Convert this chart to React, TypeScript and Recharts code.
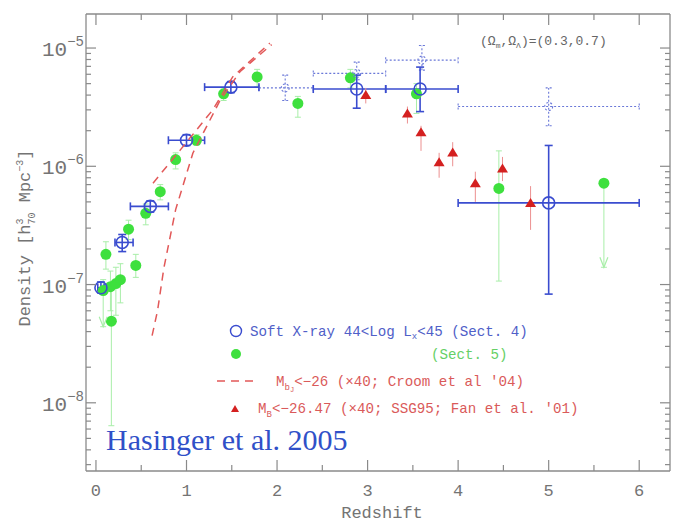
import React from "react";
import { ScatterChart, Scatter, XAxis, YAxis, ErrorBar } from "recharts";

const W = 680;
const H = 522;
const MARGIN = { top: 14, right: 10, bottom: 51, left: 86 };

const Z_MIN = -0.11;
const Z_MAX = 6.34;
const D_MIN = 2.65e-9;
const D_MAX = 1.94e-5;

// axis ticks
const xTicks = [0, 0.5, 1, 1.5, 2, 2.5, 3, 3.5, 4, 4.5, 5, 5.5, 6];
const yTicks = [
  3e-9, 4e-9, 5e-9, 6e-9, 7e-9, 8e-9, 9e-9, 1e-8,
  2e-8, 3e-8, 4e-8, 5e-8, 6e-8, 7e-8, 8e-8, 9e-8, 1e-7,
  2e-7, 3e-7, 4e-7, 5e-7, 6e-7, 7e-7, 8e-7, 9e-7, 1e-6,
  2e-6, 3e-6, 4e-6, 5e-6, 6e-6, 7e-6, 8e-6, 9e-6, 1e-5,
];

// soft X-ray, 44 < log Lx < 45
const xrayZ = [0.055, 0.29, 0.6, 1.0, 1.49, 2.88, 3.58, 5.0];
const xrayDensity = [9.4e-8, 2.27e-7, 4.58e-7, 1.66e-6, 4.67e-6, 4.5e-6, 4.5e-6, 4.9e-7];
const xrayZLow = [0.02, 0.21, 0.38, 0.8, 1.2, 2.4, 3.2, 4.0];
const xrayZHigh = [0.09, 0.41, 0.8, 1.2, 1.8, 3.2, 4.0, 6.0];
const xrayDLow = [8.5e-8, 1.9e-7, 4.1e-7, 1.5e-6, 4.2e-6, 3.1e-6, 2.9e-6, 8.3e-8];
const xrayDHigh = [1.05e-7, 2.65e-7, 5.1e-7, 1.85e-6, 5.2e-6, 5.9e-6, 6.9e-6, 1.5e-6];

// soft X-ray, dotted (incompleteness-corrected) points
const limZ = [2.09, 2.88, 3.6, 5.0];
const limDensity = [4.6e-6, 6.1e-6, 7.9e-6, 3.2e-6];
const limZLow = [1.8, 2.4, 3.2, 4.0];
const limZHigh = [2.4, 3.2, 4.0, 6.0];
const limDLow = [3.6e-6, 5.4e-6, 6.5e-6, 2.2e-6];
const limDHigh = [5.9e-6, 7.6e-6, 1.05e-5, 4.6e-6];

// Sect. 5 densities
const optZ = [0.08, 0.11, 0.16, 0.17, 0.22, 0.27, 0.36, 0.44, 0.55, 0.71, 0.88, 1.11, 1.41, 1.78, 2.23, 2.81, 3.54, 4.45, 5.61];
const optDensity = [8.9e-8, 1.8e-7, 9.6e-8, 4.9e-8, 1.02e-7, 1.1e-7, 2.94e-7, 1.45e-7, 4.0e-7, 6.1e-7, 1.14e-6, 1.66e-6, 4.1e-6, 5.7e-6, 3.4e-6, 5.6e-6, 4.1e-6, 6.5e-7, 7.2e-7];
const optLow = [4.4e-8, 1.35e-7, 6.0e-8, 6.4e-9, 5.5e-8, 7.0e-8, 2.4e-7, 1.15e-7, 3.2e-7, 5.2e-7, 9.5e-7, 1.5e-6, 3.6e-6, 4.7e-6, 2.6e-6, 4.6e-6, 2.8e-6, 1.07e-7, 1.4e-7];
const optHigh = [1.1e-7, 2.3e-7, 1.3e-7, 1.0e-7, 1.4e-7, 1.5e-7, 3.5e-7, 1.8e-7, 4.8e-7, 7.0e-7, 1.3e-6, 1.85e-6, 4.6e-6, 6.6e-6, 3.9e-6, 6.6e-6, 5.0e-6, 1.35e-6, 7.2e-7];
const optLimitZ = [0.08, 5.61];
const optLimitTip = [4.4e-8, 1.4e-7];

// Fan et al. '01, M_B < -26.47
const qsoZ = [2.98, 3.44, 3.59, 3.79, 3.94, 4.19, 4.49, 4.8];
const qsoDensity = [4.0e-6, 2.8e-6, 1.94e-6, 1.08e-6, 1.31e-6, 7.2e-7, 9.6e-7, 4.9e-7];
const qsoLow = [3.4e-6, 2.3e-6, 1.35e-6, 8.0e-7, 1.0e-6, 5.0e-7, 7.5e-7, 2.9e-7];
const qsoHigh = [4.6e-6, 3.2e-6, 2.2e-6, 1.3e-6, 1.6e-6, 9.0e-7, 1.2e-6, 6.8e-7];

// Croom et al '04 model curves
const croomAZ = [0.63, 0.93, 1.29, 1.51, 1.92];
const croomA = [7.2e-7, 1.37e-6, 3.0e-6, 5.7e-6, 1.1e-5];
const croomBZ = [0.62, 0.68, 0.75, 0.88, 1.07, 1.37, 1.59, 1.94];
const croomB = [3.7e-8, 6.0e-8, 1.38e-7, 4.3e-7, 1.29e-6, 3.6e-6, 6.3e-6, 1.07e-5];

const FRAME = "#8a8a8a";
const LABEL = "#747474";
const BLUE = "#3a4ccf";
const BLUE_DOT = "#6a78d8";
const GREEN = "#3ee03e";
const GREEN_BAR = "#a8eea8";
const RED = "#d42020";
const RED_BAR = "#ec9090";
const RED_DASH = "#e25858";
const MONO = "'Liberation Mono', monospace";

const withBars = (z: number[], d: number[], dLo: number[], dHi: number[], zLo?: number[], zHi?: number[]) =>
  z.map((v, i) => ({
    z: v,
    d: d[i],
    ey: [d[i] - dLo[i], dHi[i] - d[i]],
    ez: zLo && zHi ? [v - zLo[i], zHi[i] - v] : [0, 0],
  }));

const xrayData = withBars(xrayZ, xrayDensity, xrayDLow, xrayDHigh, xrayZLow, xrayZHigh);
const limData = withBars(limZ, limDensity, limDLow, limDHigh, limZLow, limZHigh);
const optData = withBars(optZ, optDensity, optLow, optHigh);
const qsoData = withBars(qsoZ, qsoDensity, qsoLow, qsoHigh);
const optLimitData = optLimitZ.map((z, i) => ({ z, d: optLimitTip[i] }));
const croomAData = croomAZ.map((z, i) => ({ z, d: croomA[i] }));
const croomBData = croomBZ.map((z, i) => ({ z, d: croomB[i] }));

const isInt = (v: number) => Math.abs(v - Math.round(v)) < 1e-9;
const isDecade = (v: number) => isInt(Math.log10(v));

function BottomTick({ x, y, payload }: any) {
  const major = isInt(payload.value);
  return (
    <g>
      <line x1={x} x2={x} y1={y} y2={y - (major ? 11 : 6)} stroke={FRAME} strokeWidth={1.2} />
      {major && (
        <text x={x} y={y + 25} textAnchor="middle" fontFamily={MONO} fontSize={17} fill={LABEL}>
          {payload.value}
        </text>
      )}
    </g>
  );
}

function TopTick({ x, y, payload }: any) {
  const major = isInt(payload.value);
  return <line x1={x} x2={x} y1={y} y2={y + (major ? 11 : 6)} stroke={FRAME} strokeWidth={1.2} />;
}

function LeftTick({ x, y, payload }: any) {
  const major = isDecade(payload.value);
  const exp = Math.round(Math.log10(payload.value));
  return (
    <g>
      <line x1={x} x2={x + (major ? 10 : 5)} y1={y} y2={y} stroke={FRAME} strokeWidth={1.2} />
      {major && (
        <text x={x - 2} y={y + 8} textAnchor="end" fontFamily={MONO} fontSize={21} fill={LABEL}>
          10
          <tspan dy={-10} fontSize={14}>{`\u2212${Math.abs(exp)}`}</tspan>
        </text>
      )}
    </g>
  );
}

function RightTick({ x, y, payload }: any) {
  const major = isDecade(payload.value);
  return <line x1={x} x2={x - (major ? 10 : 5)} y1={y} y2={y} stroke={FRAME} strokeWidth={1.2} />;
}

const OpenCircle = ({ cx, cy }: any) => (
  <circle cx={cx} cy={cy} r={6} fill="none" stroke={BLUE} strokeWidth={1.6} />
);
const DottedCircle = ({ cx, cy }: any) => (
  <circle cx={cx} cy={cy} r={4} fill="none" stroke={BLUE_DOT} strokeWidth={1.1} strokeDasharray="2 2" />
);
const Dot = ({ cx, cy }: any) => <circle cx={cx} cy={cy} r={5.5} fill={GREEN} />;
const Triangle = ({ cx, cy }: any) => (
  <polygon points={`${cx - 5.5},${cy + 4} ${cx + 5.5},${cy + 4} ${cx},${cy - 5}`} fill={RED} />
);
const ArrowHead = ({ cx, cy }: any) => (
  <polyline points={`${cx - 4},${cy - 10} ${cx},${cy} ${cx + 4},${cy - 10}`} fill="none" stroke={GREEN_BAR} strokeWidth={1.2} />
);
const NoSymbol = () => <g />;

function Annotations() {
  return (
    <svg width={W} height={H} style={{ position: "absolute", left: 0, top: 0, pointerEvents: "none" }}>
      <text x={480} y={45} fontFamily={MONO} fontSize={13} fill="#666">
        ({"\u03a9"}
        <tspan dy={3} fontSize={8}>m</tspan>
        <tspan dy={-3}>,{"\u03a9"}</tspan>
        <tspan dy={3} fontSize={8}>{"\u039b"}</tspan>
        <tspan dy={-3}>)=(0.3,0.7)</tspan>
      </text>

      <text transform="translate(30,238) rotate(-90)" textAnchor="middle" fontFamily={MONO} fontSize={17} fill={LABEL}>
        Density [h
        <tspan dy={-7} fontSize={10}>3</tspan>
        <tspan dx={-6} dy={12} fontSize={10}>70</tspan>
        <tspan dy={-5}> Mpc</tspan>
        <tspan dy={-7} fontSize={10}>{"\u22123"}</tspan>
        <tspan dy={7}>]</tspan>
      </text>

      <text x={382} y={518} textAnchor="middle" fontFamily={MONO} fontSize={17} fill={LABEL}>
        Redshift
      </text>

      <circle cx={236} cy={331} r={5.5} fill="none" stroke={BLUE} strokeWidth={1.4} />
      <text x={250} y={336} fontFamily={MONO} fontSize={14.2} fill="#5060c8">
        Soft X-ray 44&lt;Log L
        <tspan dy={3} fontSize={9}>x</tspan>
        <tspan dy={-3}>&lt;45 (Sect. 4)</tspan>
      </text>

      <circle cx={236} cy={354} r={5} fill={GREEN} />
      <text x={431} y={359} fontFamily={MONO} fontSize={14.2} fill="#66d066">
        (Sect. 5)
      </text>

      <line x1={217} x2={258} y1={381} y2={381} stroke={RED_DASH} strokeWidth={1.4} strokeDasharray="8 6" />
      <text x={276} y={386} fontFamily={MONO} fontSize={14.2} fill="#da5a5a">
        M
        <tspan dy={4} fontSize={9}>b</tspan>
        <tspan dy={2} fontSize={7}>J</tspan>
        <tspan dy={-6}>&lt;{"\u2212"}26 ({"\u00d7"}40; Croom et al '04)</tspan>
      </text>

      <polygon points="231,412 239,412 235,405" fill={RED} />
      <text x={258} y={413} fontFamily={MONO} fontSize={14.2} fill="#da5a5a">
        M
        <tspan dy={4} fontSize={9}>B</tspan>
        <tspan dy={-4}>&lt;{"\u2212"}26.47 ({"\u00d7"}40; SSG95; Fan et al. '01)</tspan>
      </text>

      <text x={106} y={450} fontFamily="'Liberation Serif', serif" fontSize={30} fill="#3050c8">
        Hasinger et al. 2005
      </text>
    </svg>
  );
}

export default function App() {
  return (
    <div style={{ position: "absolute", left: 0, top: 0, width: W, height: H, background: "#fff" }}>
      <ScatterChart width={W} height={H} margin={MARGIN}>
        <XAxis
          xAxisId="x"
          type="number"
          dataKey="z"
          domain={[Z_MIN, Z_MAX]}
          allowDataOverflow
          ticks={xTicks}
          interval={0}
          orientation="bottom"
          mirror
          tickLine={false}
          tickSize={0}
          tickMargin={0}
          axisLine={{ stroke: FRAME, strokeWidth: 1.3 }}
          tick={<BottomTick />}
        />
        <XAxis
          xAxisId="xt"
          type="number"
          dataKey="z"
          domain={[Z_MIN, Z_MAX]}
          allowDataOverflow
          ticks={xTicks}
          interval={0}
          orientation="top"
          mirror
          tickLine={false}
          tickSize={0}
          tickMargin={0}
          axisLine={{ stroke: FRAME, strokeWidth: 1.3 }}
          tick={<TopTick />}
        />
        <YAxis
          yAxisId="y"
          type="number"
          dataKey="d"
          scale="log"
          domain={[D_MIN, D_MAX]}
          allowDataOverflow
          ticks={yTicks}
          interval={0}
          orientation="left"
          mirror
          tickLine={false}
          tickSize={0}
          tickMargin={0}
          axisLine={{ stroke: FRAME, strokeWidth: 1.3 }}
          tick={<LeftTick />}
        />
        <YAxis
          yAxisId="yr"
          type="number"
          dataKey="d"
          scale="log"
          domain={[D_MIN, D_MAX]}
          allowDataOverflow
          ticks={yTicks}
          interval={0}
          orientation="right"
          mirror
          tickLine={false}
          tickSize={0}
          tickMargin={0}
          axisLine={{ stroke: FRAME, strokeWidth: 1.3 }}
          tick={<RightTick />}
        />

        <Scatter xAxisId="x" yAxisId="y" data={optData} shape={<Dot />} isAnimationActive={false}>
          <ErrorBar dataKey="ey" direction="y" width={3} stroke={GREEN_BAR} strokeWidth={1} />
        </Scatter>
        <Scatter xAxisId="x" yAxisId="y" data={optLimitData} shape={<ArrowHead />} isAnimationActive={false} />

        <Scatter xAxisId="x" yAxisId="y" data={limData} shape={<DottedCircle />} isAnimationActive={false}>
          <ErrorBar dataKey="ez" direction="x" width={3} stroke={BLUE_DOT} strokeWidth={1.1} strokeDasharray="2 2" />
          <ErrorBar dataKey="ey" direction="y" width={3} stroke={BLUE_DOT} strokeWidth={1.1} strokeDasharray="2 2" />
        </Scatter>
        <Scatter xAxisId="x" yAxisId="y" data={xrayData} shape={<OpenCircle />} isAnimationActive={false}>
          <ErrorBar dataKey="ez" direction="x" width={4} stroke={BLUE} strokeWidth={1.6} />
          <ErrorBar dataKey="ey" direction="y" width={4} stroke={BLUE} strokeWidth={1.6} />
        </Scatter>

        <Scatter
          xAxisId="x"
          yAxisId="y"
          data={croomAData}
          line={{ stroke: RED_DASH, strokeWidth: 1.5, strokeDasharray: "8 6" }}
          shape={<NoSymbol />}
          isAnimationActive={false}
        />
        <Scatter
          xAxisId="x"
          yAxisId="y"
          data={croomBData}
          line={{ stroke: RED_DASH, strokeWidth: 1.5, strokeDasharray: "8 6" }}
          shape={<NoSymbol />}
          isAnimationActive={false}
        />

        <Scatter xAxisId="x" yAxisId="y" data={qsoData} shape={<Triangle />} isAnimationActive={false}>
          <ErrorBar dataKey="ey" direction="y" width={0} stroke={RED_BAR} strokeWidth={1} />
        </Scatter>
      </ScatterChart>
      <Annotations />
    </div>
  );
}
